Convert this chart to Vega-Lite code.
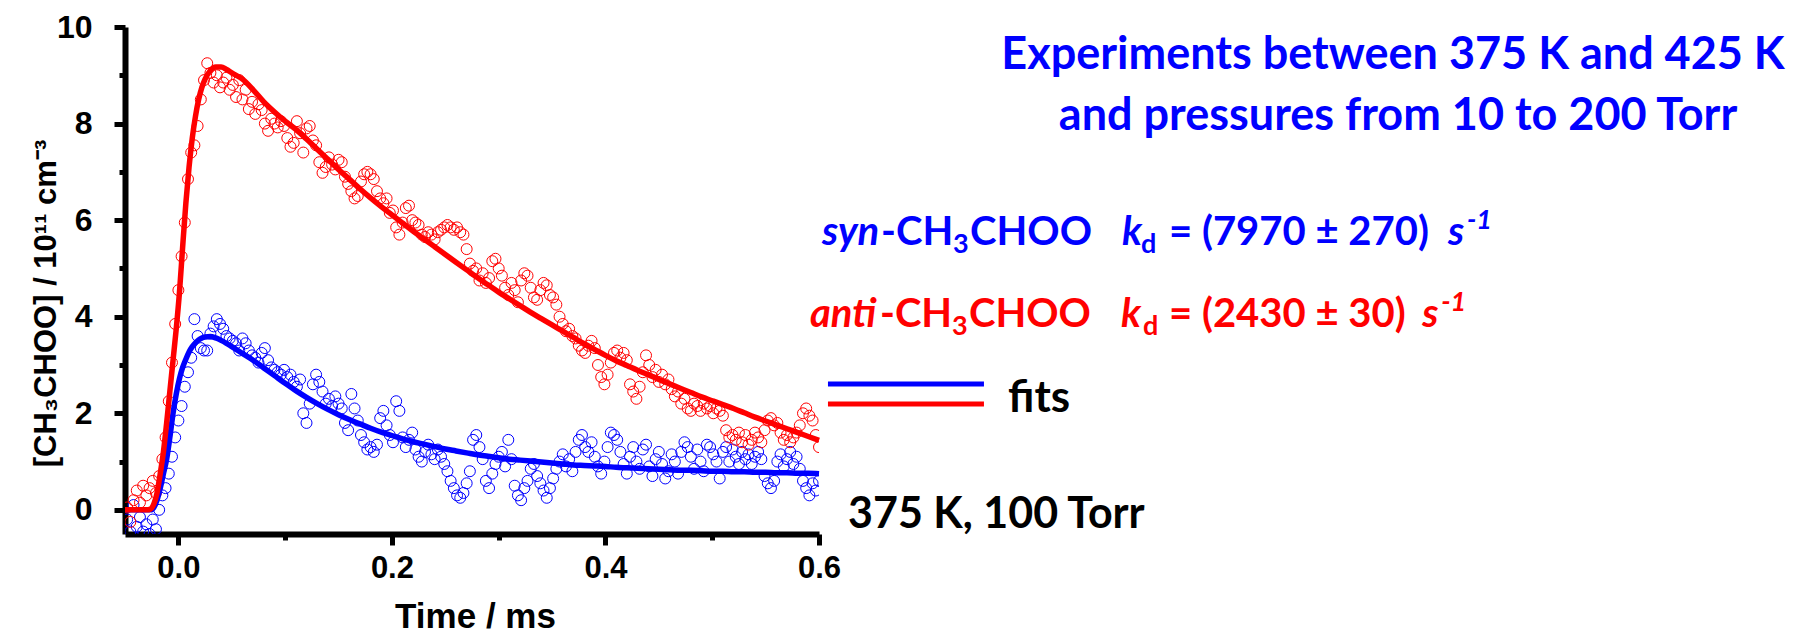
{
  "$schema": "https://vega.github.io/schema/vega-lite/v6.json",
  "width": 694,
  "height": 507,
  "autosize": {"type": "none"},
  "padding": {"left": 125, "top": 27, "right": 991, "bottom": 101},
  "background": "white",
  "config": {
    "view": {"stroke": null},
    "axis": {"grid": false}
  },
  "datasets": {
    "pts": [
      {"t":-0.048,"a":0.05,"s":-0.2},{"t":-0.045,"a":-0.25,"s":-0.45},{"t":-0.042,"a":0.2,"s":0.1},{"t":-0.039,"a":0.4,"s":-0.35},
      {"t":-0.036,"a":0.15,"s":-0.15},{"t":-0.033,"a":0.5,"s":-0.45},{"t":-0.030,"a":0.3,"s":-0.3},{"t":-0.027,"a":0.45,"s":-0.5},
      {"t":-0.024,"a":0.6,"s":-0.2},{"t":-0.021,"a":0.35,"s":-0.4},{"t":-0.018,"a":0.7,"s":0.0},{"t":-0.015,"a":1.05,"s":0.3},
      {"t":-0.012,"a":1.5,"s":0.45},{"t":-0.009,"a":2.25,"s":0.75},{"t":-0.006,"a":3.05,"s":1.1},{"t":-0.003,"a":3.85,"s":1.5},
      {"t":0.000,"a":4.55,"s":1.85},{"t":0.003,"a":5.25,"s":2.15},{"t":0.006,"a":5.95,"s":2.55},{"t":0.009,"a":6.85,"s":2.85},
      {"t":0.012,"a":7.4,"s":3.15},{"t":0.015,"a":7.55,"s":3.95},{"t":0.018,"a":7.95,"s":3.6},{"t":0.021,"a":8.5,"s":3.35},
      {"t":0.024,"a":8.9,"s":3.3},{"t":0.027,"a":9.25,"s":3.3},{"t":0.030,"a":9.05,"s":3.65},{"t":0.033,"a":8.85,"s":3.8},
      {"t":0.036,"a":9.0,"s":3.95},{"t":0.039,"a":8.75,"s":3.85},{"t":0.042,"a":8.85,"s":3.75},{"t":0.045,"a":8.95,"s":3.6},
      {"t":0.048,"a":8.7,"s":3.55},{"t":0.051,"a":8.8,"s":3.5},{"t":0.054,"a":8.55,"s":3.45},{"t":0.057,"a":8.9,"s":3.3},
      {"t":0.060,"a":8.5,"s":3.55},{"t":0.063,"a":8.7,"s":3.45},{"t":0.066,"a":8.3,"s":3.3},{"t":0.069,"a":8.45,"s":3.2},
      {"t":0.072,"a":8.2,"s":3.15},{"t":0.075,"a":8.4,"s":3.05},{"t":0.078,"a":8.28,"s":3.25},{"t":0.081,"a":8.0,"s":3.35},
      {"t":0.084,"a":7.85,"s":3.1},{"t":0.087,"a":8.1,"s":2.95},{"t":0.090,"a":8.0,"s":2.9},{"t":0.093,"a":7.92,"s":2.85},
      {"t":0.096,"a":8.05,"s":2.8},{"t":0.099,"a":7.95,"s":2.9},{"t":0.102,"a":7.7,"s":2.75},{"t":0.105,"a":7.52,"s":2.8},
      {"t":0.108,"a":7.6,"s":2.65},{"t":0.111,"a":8.05,"s":2.55},{"t":0.114,"a":7.8,"s":2.7},{"t":0.117,"a":7.4,"s":2.0},
      {"t":0.120,"a":7.9,"s":1.8},{"t":0.123,"a":7.95,"s":2.2},{"t":0.126,"a":7.65,"s":2.6},{"t":0.129,"a":7.55,"s":2.8},
      {"t":0.132,"a":7.2,"s":2.65},{"t":0.135,"a":6.98,"s":2.45},{"t":0.138,"a":7.1,"s":2.2},{"t":0.141,"a":7.3,"s":2.3},
      {"t":0.144,"a":7.15,"s":2.15},{"t":0.147,"a":7.05,"s":2.35},{"t":0.150,"a":7.25,"s":2.2},{"t":0.153,"a":7.2,"s":2.1},
      {"t":0.156,"a":6.9,"s":1.8},{"t":0.159,"a":6.75,"s":1.65},{"t":0.162,"a":6.6,"s":2.4},{"t":0.165,"a":6.45,"s":2.1},
      {"t":0.168,"a":6.5,"s":1.85},{"t":0.171,"a":6.8,"s":1.55},{"t":0.174,"a":6.95,"s":1.4},{"t":0.177,"a":7.0,"s":1.25},
      {"t":0.180,"a":6.95,"s":1.3},{"t":0.183,"a":6.85,"s":1.2},{"t":0.186,"a":6.6,"s":1.35},{"t":0.189,"a":6.45,"s":1.9},
      {"t":0.192,"a":6.35,"s":2.05},{"t":0.195,"a":6.45,"s":1.75},{"t":0.198,"a":6.15,"s":1.55},{"t":0.201,"a":6.2,"s":1.4},
      {"t":0.204,"a":5.85,"s":2.25},{"t":0.207,"a":5.7,"s":2.05},{"t":0.210,"a":5.95,"s":1.5},{"t":0.213,"a":6.25,"s":1.3},
      {"t":0.216,"a":6.3,"s":1.45},{"t":0.219,"a":6.0,"s":1.6},{"t":0.222,"a":5.95,"s":1.25},{"t":0.225,"a":5.9,"s":1.1},
      {"t":0.228,"a":5.7,"s":1.0},{"t":0.231,"a":5.65,"s":1.2},{"t":0.234,"a":5.75,"s":1.35},{"t":0.237,"a":5.7,"s":1.15},
      {"t":0.240,"a":5.6,"s":1.05},{"t":0.243,"a":5.75,"s":1.25},{"t":0.246,"a":5.8,"s":1.1},{"t":0.249,"a":5.85,"s":0.95},
      {"t":0.252,"a":5.9,"s":0.8},{"t":0.255,"a":5.85,"s":0.6},{"t":0.258,"a":5.8,"s":0.45},{"t":0.261,"a":5.85,"s":0.3},
      {"t":0.264,"a":5.75,"s":0.25},{"t":0.267,"a":5.7,"s":0.35},{"t":0.270,"a":5.4,"s":0.55},{"t":0.273,"a":5.1,"s":0.8},
      {"t":0.276,"a":4.95,"s":1.45},{"t":0.279,"a":5.0,"s":1.55},{"t":0.282,"a":4.75,"s":1.3},{"t":0.285,"a":4.9,"s":1.05},
      {"t":0.288,"a":4.7,"s":0.6},{"t":0.291,"a":4.8,"s":0.45},{"t":0.294,"a":5.15,"s":0.75},{"t":0.297,"a":5.2,"s":0.95},
      {"t":0.300,"a":5.0,"s":1.1},{"t":0.303,"a":4.85,"s":1.2},{"t":0.306,"a":4.6,"s":0.9},{"t":0.309,"a":4.45,"s":1.45},
      {"t":0.312,"a":4.7,"s":1.05},{"t":0.315,"a":4.55,"s":0.5},{"t":0.318,"a":4.3,"s":0.3},{"t":0.321,"a":4.75,"s":0.2},
      {"t":0.324,"a":4.9,"s":0.45},{"t":0.327,"a":4.85,"s":0.6},{"t":0.330,"a":4.6,"s":0.85},{"t":0.333,"a":4.4,"s":0.95},
      {"t":0.336,"a":4.35,"s":0.7},{"t":0.339,"a":4.55,"s":0.55},{"t":0.342,"a":4.7,"s":0.4},{"t":0.345,"a":4.65,"s":0.25},
      {"t":0.348,"a":4.45,"s":0.45},{"t":0.351,"a":4.4,"s":0.65},{"t":0.354,"a":4.25,"s":0.85},{"t":0.357,"a":4.0,"s":1.0},
      {"t":0.360,"a":3.85,"s":1.15},{"t":0.363,"a":3.7,"s":0.9},{"t":0.366,"a":3.75,"s":1.05},{"t":0.369,"a":3.6,"s":0.8},
      {"t":0.372,"a":3.55,"s":1.2},{"t":0.375,"a":3.4,"s":1.45},{"t":0.378,"a":3.3,"s":1.55},{"t":0.381,"a":3.25,"s":1.3},
      {"t":0.384,"a":3.4,"s":1.2},{"t":0.387,"a":3.5,"s":1.4},{"t":0.390,"a":3.35,"s":1.1},{"t":0.393,"a":3.0,"s":0.9},
      {"t":0.396,"a":2.75,"s":0.75},{"t":0.399,"a":2.6,"s":1.0},{"t":0.402,"a":2.8,"s":1.3},{"t":0.405,"a":3.05,"s":1.6},
      {"t":0.408,"a":3.25,"s":1.55},{"t":0.411,"a":3.3,"s":1.45},{"t":0.414,"a":3.15,"s":1.2},{"t":0.417,"a":3.25,"s":0.95},
      {"t":0.420,"a":3.1,"s":0.75},{"t":0.423,"a":2.6,"s":1.1},{"t":0.426,"a":2.45,"s":1.3},{"t":0.429,"a":2.3,"s":1.0},
      {"t":0.432,"a":2.55,"s":0.85},{"t":0.435,"a":2.85,"s":1.25},{"t":0.438,"a":3.2,"s":1.35},{"t":0.441,"a":3.0,"s":0.9},
      {"t":0.444,"a":2.75,"s":0.7},{"t":0.447,"a":2.9,"s":1.05},{"t":0.450,"a":2.65,"s":1.2},{"t":0.453,"a":2.8,"s":0.95},
      {"t":0.456,"a":2.6,"s":0.65},{"t":0.459,"a":2.7,"s":0.8},{"t":0.462,"a":2.5,"s":1.15},{"t":0.465,"a":2.35,"s":1.0},
      {"t":0.468,"a":2.45,"s":0.75},{"t":0.471,"a":2.2,"s":1.2},{"t":0.474,"a":2.3,"s":1.4},{"t":0.477,"a":2.1,"s":1.3},
      {"t":0.480,"a":2.05,"s":1.1},{"t":0.483,"a":2.2,"s":0.85},{"t":0.486,"a":2.15,"s":1.25},{"t":0.489,"a":2.05,"s":1.0},
      {"t":0.492,"a":2.2,"s":0.8},{"t":0.495,"a":2.1,"s":1.35},{"t":0.498,"a":2.15,"s":1.3},{"t":0.501,"a":2.0,"s":1.15},
      {"t":0.504,"a":2.1,"s":1.0},{"t":0.507,"a":2.05,"s":0.65},{"t":0.510,"a":1.95,"s":1.2},{"t":0.513,"a":1.65,"s":1.3},
      {"t":0.516,"a":1.5,"s":1.0},{"t":0.519,"a":1.55,"s":1.25},{"t":0.522,"a":1.45,"s":1.1},{"t":0.525,"a":1.6,"s":0.95},
      {"t":0.528,"a":1.4,"s":1.2},{"t":0.531,"a":1.55,"s":1.05},{"t":0.534,"a":1.35,"s":1.15},{"t":0.537,"a":1.45,"s":0.95},
      {"t":0.540,"a":1.6,"s":1.1},{"t":0.543,"a":1.5,"s":1.2},{"t":0.546,"a":1.4,"s":1.05},{"t":0.549,"a":1.65,"s":0.7},
      {"t":0.552,"a":1.85,"s":0.55},{"t":0.555,"a":1.9,"s":0.45},{"t":0.558,"a":1.75,"s":0.6},{"t":0.561,"a":1.8,"s":1.0},
      {"t":0.564,"a":1.6,"s":1.15},{"t":0.567,"a":1.45,"s":0.9},{"t":0.570,"a":1.55,"s":1.05},{"t":0.573,"a":1.4,"s":1.2},
      {"t":0.576,"a":1.5,"s":0.95},{"t":0.579,"a":1.6,"s":1.1},{"t":0.582,"a":1.75,"s":0.85},{"t":0.585,"a":2.0,"s":0.6},
      {"t":0.588,"a":2.1,"s":0.45},{"t":0.591,"a":1.95,"s":0.3},{"t":0.594,"a":1.85,"s":0.55},{"t":0.597,"a":1.55,"s":0.4},
      {"t":0.600,"a":1.3,"s":0.6}
    ],
    "fit": [
      {"t":-0.05,"a":0,"s":0},{"t":-0.03,"a":0,"s":0},{"t":-0.026,"a":0.02,"s":0},{"t":-0.023,"a":0.12,"s":0.05},
      {"t":-0.020,"a":0.35,"s":0.2},{"t":-0.017,"a":0.75,"s":0.45},{"t":-0.014,"a":1.2,"s":0.75},{"t":-0.011,"a":1.8,"s":1.05},
      {"t":-0.008,"a":2.45,"s":1.5},{"t":-0.005,"a":3.1,"s":2.0},{"t":-0.002,"a":3.75,"s":2.4},{"t":0.001,"a":4.5,"s":2.72},
      {"t":0.004,"a":5.45,"s":2.95},{"t":0.007,"a":6.35,"s":3.12},{"t":0.010,"a":7.1,"s":3.27},{"t":0.013,"a":7.7,"s":3.38},
      {"t":0.016,"a":8.15,"s":3.46},{"t":0.019,"a":8.5,"s":3.52},{"t":0.022,"a":8.75,"s":3.56},{"t":0.025,"a":8.92,"s":3.58},
      {"t":0.03,"a":9.1,"s":3.59},{"t":0.035,"a":9.17,"s":3.56},{"t":0.04,"a":9.17,"s":3.51},{"t":0.045,"a":9.12,"s":3.45},
      {"t":0.05,"a":9.05,"s":3.38},{"t":0.06,"a":8.92,"s":3.24},{"t":0.07,"a":8.7,"s":3.1},{"t":0.08,"a":8.45,"s":2.94},
      {"t":0.09,"a":8.24,"s":2.78},{"t":0.10,"a":8.05,"s":2.62},{"t":0.11,"a":7.88,"s":2.47},{"t":0.12,"a":7.68,"s":2.33},
      {"t":0.13,"a":7.47,"s":2.2},{"t":0.14,"a":7.26,"s":2.08},{"t":0.15,"a":7.05,"s":1.97},{"t":0.16,"a":6.85,"s":1.87},
      {"t":0.17,"a":6.65,"s":1.78},{"t":0.18,"a":6.46,"s":1.69},{"t":0.19,"a":6.28,"s":1.61},{"t":0.20,"a":6.11,"s":1.54},
      {"t":0.21,"a":5.94,"s":1.47},{"t":0.22,"a":5.77,"s":1.41},{"t":0.23,"a":5.61,"s":1.36},{"t":0.24,"a":5.45,"s":1.31},
      {"t":0.25,"a":5.29,"s":1.26},{"t":0.26,"a":5.13,"s":1.22},{"t":0.27,"a":4.97,"s":1.18},{"t":0.28,"a":4.81,"s":1.14},
      {"t":0.29,"a":4.66,"s":1.11},{"t":0.30,"a":4.51,"s":1.08},{"t":0.31,"a":4.37,"s":1.05},{"t":0.32,"a":4.23,"s":1.03},
      {"t":0.33,"a":4.09,"s":1.01},{"t":0.34,"a":3.96,"s":0.99},{"t":0.35,"a":3.83,"s":0.97},{"t":0.36,"a":3.7,"s":0.95},
      {"t":0.37,"a":3.57,"s":0.93},{"t":0.38,"a":3.44,"s":0.92},{"t":0.39,"a":3.32,"s":0.91},{"t":0.40,"a":3.2,"s":0.9},
      {"t":0.41,"a":3.09,"s":0.88},{"t":0.42,"a":2.99,"s":0.87},{"t":0.43,"a":2.89,"s":0.86},{"t":0.44,"a":2.8,"s":0.85},
      {"t":0.45,"a":2.7,"s":0.84},{"t":0.46,"a":2.61,"s":0.83},{"t":0.47,"a":2.52,"s":0.82},{"t":0.48,"a":2.43,"s":0.82},
      {"t":0.49,"a":2.34,"s":0.81},{"t":0.50,"a":2.26,"s":0.8},{"t":0.51,"a":2.18,"s":0.8},{"t":0.52,"a":2.1,"s":0.79},
      {"t":0.53,"a":2.01,"s":0.79},{"t":0.54,"a":1.92,"s":0.78},{"t":0.55,"a":1.84,"s":0.78},{"t":0.56,"a":1.76,"s":0.77},
      {"t":0.57,"a":1.68,"s":0.77},{"t":0.58,"a":1.6,"s":0.76},{"t":0.59,"a":1.52,"s":0.76},{"t":0.60,"a":1.44,"s":0.75}
    ]
  },
  "layer": [
    {
      "data": {"name": "pts"},
      "mark": {"type": "point", "shape": "circle", "filled": false, "color": "#0000FF", "size": 120, "strokeWidth": 1, "opacity": 1, "clip": true},
      "encoding": {
        "x": {"field": "t", "type": "quantitative",
          "scale": {"domain": [-0.05, 0.6], "nice": false, "zero": false},
          "axis": {"title": "Time / ms", "values": [0, 0.1, 0.2, 0.3, 0.4, 0.5, 0.6], "format": ".1f",
            "labelExpr": "round(datum.value*10) % 2 == 0 ? datum.label : ''",
            "tickSize": {"condition": {"test": "round(datum.value*10) % 2 == 0", "value": 11}, "value": 6},
            "domainWidth": 6, "tickWidth": 5, "domainColor": "black", "tickColor": "black",
            "labelFont": "Liberation Sans", "labelFontWeight": "bold", "labelFontSize": 31, "labelColor": "black",
            "titleFont": "Liberation Sans", "titleFontWeight": "bold", "titleFontSize": 35, "titleColor": "black",
            "labelPadding": 8, "labelFlush": false,
            "titleX": 350, "titleY": 93, "titleAlign": "center", "titleBaseline": "alphabetic"}},
        "y": {"field": "s", "type": "quantitative",
          "scale": {"domain": [-0.5, 10], "nice": false, "zero": false},
          "axis": {"title": "[CH₃CHOO] / 10¹¹ cm⁻³", "values": [0, 1, 2, 3, 4, 5, 6, 7, 8, 9, 10],
            "labelExpr": "datum.value % 2 == 0 ? datum.label : ''",
            "tickSize": {"condition": {"test": "datum.value % 2 == 0", "value": 11}, "value": 6},
            "domainWidth": 6, "tickWidth": 5, "domainColor": "black", "tickColor": "black",
            "labelFont": "Liberation Sans", "labelFontWeight": "bold", "labelFontSize": 32, "labelColor": "black",
            "titleFont": "Liberation Sans", "titleFontWeight": "bold", "titleFontSize": 31, "titleColor": "black",
            "labelPadding": 22, "labelFlush": false,
            "titleX": -79, "titleY": 276, "titleAlign": "center", "titleBaseline": "middle", "titleAngle": -90}}
      }
    },
    {
      "data": {"name": "pts"},
      "mark": {"type": "point", "shape": "circle", "filled": false, "color": "#FF0000", "size": 120, "strokeWidth": 1, "opacity": 1, "clip": true},
      "encoding": {
        "x": {"field": "t", "type": "quantitative"},
        "y": {"field": "a", "type": "quantitative"}
      }
    },
    {
      "data": {"name": "fit"},
      "mark": {"type": "line", "color": "#0000FF", "strokeWidth": 5.5, "interpolate": "monotone"},
      "encoding": {
        "x": {"field": "t", "type": "quantitative"},
        "y": {"field": "s", "type": "quantitative"}
      }
    },
    {
      "data": {"name": "fit"},
      "mark": {"type": "line", "color": "#FF0000", "strokeWidth": 5.5, "interpolate": "monotone"},
      "encoding": {
        "x": {"field": "t", "type": "quantitative"},
        "y": {"field": "a", "type": "quantitative"}
      }
    },
    {
      "data": {"values": [{"label": "Experiments between 375 K and 425 K"}]},
      "mark": {"type": "text", "font": "Lato", "fontWeight": "bold", "fontSize": 45, "color": "#0000FF", "align": "center", "baseline": "alphabetic"},
      "encoding": {"x": {"datum": 1.1376, "type": "quantitative"}, "y": {"datum": 9.13, "type": "quantitative"}, "text": {"field": "label"}}
    },
    {
      "data": {"values": [{"label": "and pressures from 10 to 200 Torr"}]},
      "mark": {"type": "text", "font": "Lato", "fontWeight": "bold", "fontSize": 45, "color": "#0000FF", "align": "center", "baseline": "alphabetic"},
      "encoding": {"x": {"datum": 1.1423, "type": "quantitative"}, "y": {"datum": 7.867, "type": "quantitative"}, "text": {"field": "label"}}
    },
    {
      "data": {"values": [{"label": "syn"}]},
      "mark": {"type": "text", "font": "Lato", "fontWeight": "bold", "fontStyle": "italic", "fontSize": 40, "color": "#0000FF", "align": "left", "baseline": "alphabetic"},
      "encoding": {"x": {"datum": 0.6028, "type": "quantitative"}, "y": {"datum": 5.485, "type": "quantitative"}, "text": {"field": "label"}}
    },
    {
      "data": {"values": [{"label": "-CH"}]},
      "mark": {"type": "text", "font": "Lato", "fontWeight": "bold", "fontSize": 40, "color": "#0000FF", "align": "left", "baseline": "alphabetic"},
      "encoding": {"x": {"datum": 0.6581, "type": "quantitative"}, "y": {"datum": 5.485, "type": "quantitative"}, "text": {"field": "label"}}
    },
    {
      "data": {"values": [{"label": "3"}]},
      "mark": {"type": "text", "font": "Lato", "fontWeight": "bold", "fontSize": 27, "color": "#0000FF", "align": "left", "baseline": "alphabetic"},
      "encoding": {"x": {"datum": 0.7255, "type": "quantitative"}, "y": {"datum": 5.32, "type": "quantitative"}, "text": {"field": "label"}}
    },
    {
      "data": {"values": [{"label": "CHOO"}]},
      "mark": {"type": "text", "font": "Lato", "fontWeight": "bold", "fontSize": 40, "color": "#0000FF", "align": "left", "baseline": "alphabetic"},
      "encoding": {"x": {"datum": 0.7415, "type": "quantitative"}, "y": {"datum": 5.485, "type": "quantitative"}, "text": {"field": "label"}}
    },
    {
      "data": {"values": [{"label": "k"}]},
      "mark": {"type": "text", "font": "Lato", "fontWeight": "bold", "fontStyle": "italic", "fontSize": 40, "color": "#0000FF", "align": "left", "baseline": "alphabetic"},
      "encoding": {"x": {"datum": 0.8838, "type": "quantitative"}, "y": {"datum": 5.485, "type": "quantitative"}, "text": {"field": "label"}}
    },
    {
      "data": {"values": [{"label": "d"}]},
      "mark": {"type": "text", "font": "Lato", "fontWeight": "bold", "fontSize": 27, "color": "#0000FF", "align": "left", "baseline": "alphabetic"},
      "encoding": {"x": {"datum": 0.9016, "type": "quantitative"}, "y": {"datum": 5.32, "type": "quantitative"}, "text": {"field": "label"}}
    },
    {
      "data": {"values": [{"label": "= (7970 ± 270)"}]},
      "mark": {"type": "text", "font": "Lato", "fontWeight": "bold", "fontSize": 40, "color": "#0000FF", "align": "left", "baseline": "alphabetic"},
      "encoding": {"x": {"datum": 0.9278, "type": "quantitative"}, "y": {"datum": 5.485, "type": "quantitative"}, "text": {"field": "label"}}
    },
    {
      "data": {"values": [{"label": "s"}]},
      "mark": {"type": "text", "font": "Lato", "fontWeight": "bold", "fontStyle": "italic", "fontSize": 40, "color": "#0000FF", "align": "left", "baseline": "alphabetic"},
      "encoding": {"x": {"datum": 1.1891, "type": "quantitative"}, "y": {"datum": 5.485, "type": "quantitative"}, "text": {"field": "label"}}
    },
    {
      "data": {"values": [{"label": "-1"}]},
      "mark": {"type": "text", "font": "Lato", "fontWeight": "bold", "fontStyle": "italic", "fontSize": 27, "color": "#0000FF", "align": "left", "baseline": "alphabetic"},
      "encoding": {"x": {"datum": 1.2069, "type": "quantitative"}, "y": {"datum": 5.817, "type": "quantitative"}, "text": {"field": "label"}}
    },
    {
      "data": {"values": [{"label": "anti"}]},
      "mark": {"type": "text", "font": "Lato", "fontWeight": "bold", "fontStyle": "italic", "fontSize": 40, "color": "#FF0000", "align": "left", "baseline": "alphabetic"},
      "encoding": {"x": {"datum": 0.5916, "type": "quantitative"}, "y": {"datum": 3.787, "type": "quantitative"}, "text": {"field": "label"}}
    },
    {
      "data": {"values": [{"label": "-CH"}]},
      "mark": {"type": "text", "font": "Lato", "fontWeight": "bold", "fontSize": 40, "color": "#FF0000", "align": "left", "baseline": "alphabetic"},
      "encoding": {"x": {"datum": 0.6571, "type": "quantitative"}, "y": {"datum": 3.787, "type": "quantitative"}, "text": {"field": "label"}}
    },
    {
      "data": {"values": [{"label": "3"}]},
      "mark": {"type": "text", "font": "Lato", "fontWeight": "bold", "fontSize": 27, "color": "#FF0000", "align": "left", "baseline": "alphabetic"},
      "encoding": {"x": {"datum": 0.7245, "type": "quantitative"}, "y": {"datum": 3.621, "type": "quantitative"}, "text": {"field": "label"}}
    },
    {
      "data": {"values": [{"label": "CHOO"}]},
      "mark": {"type": "text", "font": "Lato", "fontWeight": "bold", "fontSize": 40, "color": "#FF0000", "align": "left", "baseline": "alphabetic"},
      "encoding": {"x": {"datum": 0.7405, "type": "quantitative"}, "y": {"datum": 3.787, "type": "quantitative"}, "text": {"field": "label"}}
    },
    {
      "data": {"values": [{"label": "k"}]},
      "mark": {"type": "text", "font": "Lato", "fontWeight": "bold", "fontStyle": "italic", "fontSize": 40, "color": "#FF0000", "align": "left", "baseline": "alphabetic"},
      "encoding": {"x": {"datum": 0.8829, "type": "quantitative"}, "y": {"datum": 3.787, "type": "quantitative"}, "text": {"field": "label"}}
    },
    {
      "data": {"values": [{"label": "d"}]},
      "mark": {"type": "text", "font": "Lato", "fontWeight": "bold", "fontSize": 27, "color": "#FF0000", "align": "left", "baseline": "alphabetic"},
      "encoding": {"x": {"datum": 0.9035, "type": "quantitative"}, "y": {"datum": 3.621, "type": "quantitative"}, "text": {"field": "label"}}
    },
    {
      "data": {"values": [{"label": "= (2430 ± 30)"}]},
      "mark": {"type": "text", "font": "Lato", "fontWeight": "bold", "fontSize": 40, "color": "#FF0000", "align": "left", "baseline": "alphabetic"},
      "encoding": {"x": {"datum": 0.9278, "type": "quantitative"}, "y": {"datum": 3.787, "type": "quantitative"}, "text": {"field": "label"}}
    },
    {
      "data": {"values": [{"label": "s"}]},
      "mark": {"type": "text", "font": "Lato", "fontWeight": "bold", "fontStyle": "italic", "fontSize": 40, "color": "#FF0000", "align": "left", "baseline": "alphabetic"},
      "encoding": {"x": {"datum": 1.165, "type": "quantitative"}, "y": {"datum": 3.787, "type": "quantitative"}, "text": {"field": "label"}}
    },
    {
      "data": {"values": [{"label": "-1"}]},
      "mark": {"type": "text", "font": "Lato", "fontWeight": "bold", "fontStyle": "italic", "fontSize": 27, "color": "#FF0000", "align": "left", "baseline": "alphabetic"},
      "encoding": {"x": {"datum": 1.1828, "type": "quantitative"}, "y": {"datum": 4.118, "type": "quantitative"}, "text": {"field": "label"}}
    },
    {
      "data": {"values": [{"series": "syn fit"}]},
      "mark": {"type": "rule", "color": "#0000FF", "strokeWidth": 5},
      "encoding": {"x": {"datum": 0.6084, "type": "quantitative"}, "x2": {"datum": 0.7545}, "y": {"datum": 2.607, "type": "quantitative"}}
    },
    {
      "data": {"values": [{"series": "anti fit"}]},
      "mark": {"type": "rule", "color": "#FF0000", "strokeWidth": 5},
      "encoding": {"x": {"datum": 0.6084, "type": "quantitative"}, "x2": {"datum": 0.7545}, "y": {"datum": 2.192, "type": "quantitative"}}
    },
    {
      "data": {"values": [{"label": "fits"}]},
      "mark": {"type": "text", "font": "Lato", "fontWeight": "bold", "fontSize": 44, "color": "black", "align": "left", "baseline": "alphabetic"},
      "encoding": {"x": {"datum": 0.777, "type": "quantitative"}, "y": {"datum": 2.027, "type": "quantitative"}, "text": {"field": "label"}}
    },
    {
      "data": {"values": [{"label": "375 K, 100 Torr"}]},
      "mark": {"type": "text", "font": "Lato", "fontWeight": "bold", "fontSize": 43, "color": "black", "align": "left", "baseline": "alphabetic"},
      "encoding": {"x": {"datum": 0.6272, "type": "quantitative"}, "y": {"datum": -0.376, "type": "quantitative"}, "text": {"field": "label"}}
    }
  ]
}
